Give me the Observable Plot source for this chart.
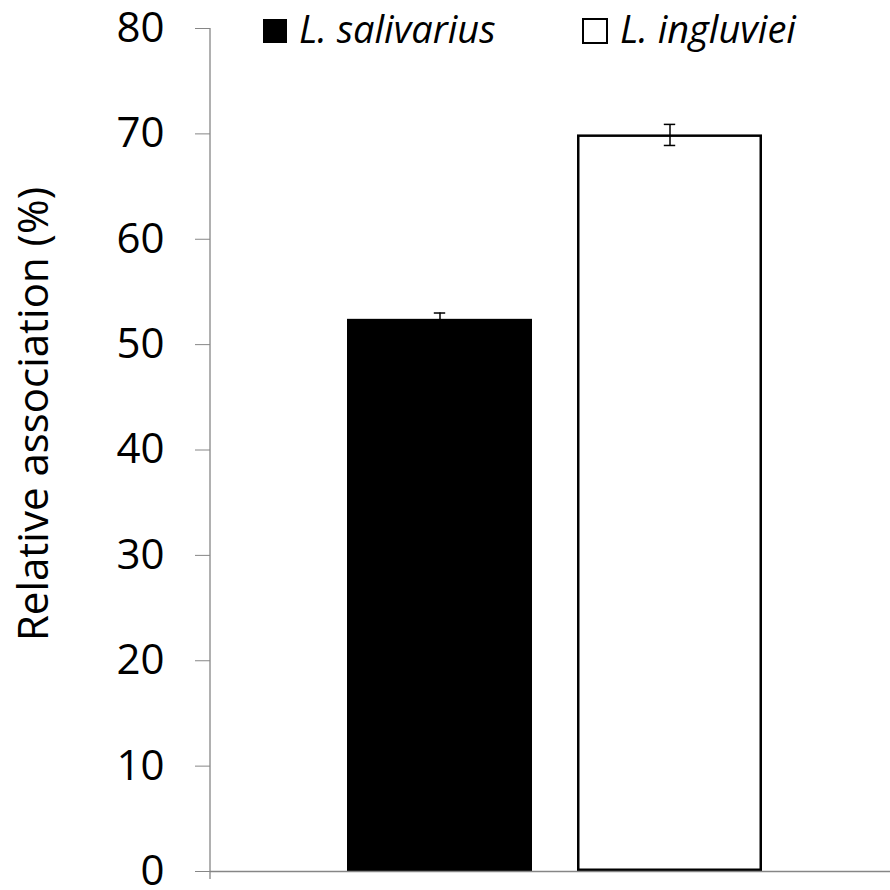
<!DOCTYPE html>
<html><head><meta charset="utf-8">
<script src="https://cdn.jsdelivr.net/npm/d3@7"></script>
<script src="https://cdn.jsdelivr.net/npm/@observablehq/plot@0.6"></script>
<style>
html,body{margin:0;padding:0;background:#fff;}
#wrap{position:relative;width:890px;height:890px;font-family:"Open Sans",sans-serif;}
#wrap svg{position:absolute;left:0;top:0;}
.sw{position:absolute;box-sizing:border-box;}
.lt{position:absolute;font-style:italic;font-size:38px;line-height:38px;color:#000;white-space:nowrap;}
</style></head>
<body><div id="wrap"></div>
<script>
const species = ["L. salivarius", "L. ingluviei"];
const means = [52.4, 69.9];
const sems = [0.6, 1.0];
const fills = ["#000000", "#ffffff"];
const yTicks = [0, 10, 20, 30, 40, 50, 60, 70, 80];
const yLabel = "Relative association (%)";

const data = species.map((s, i) => ({
  species: s, mean: means[i], fill: fills[i],
  lo: means[i] - sems[i], hi: means[i] + sems[i]
}));

const axisGray = "#868686";

const plot = Plot.plot({
  width: 890, height: 890,
  marginLeft: 210, marginRight: 0, marginTop: 28, marginBottom: 19,
  style: {fontFamily: "'Open Sans', sans-serif", background: "transparent", overflow: "visible", color: "black"},
  color: {type: "identity"},
  x: {domain: species, range: [347, 763], paddingInner: 0.195, paddingOuter: 0, axis: null},
  y: {domain: [0, 80]},
  marks: [
    Plot.barY(data, {x: "species", y: "mean", fill: "fill", stroke: "black", strokeWidth: 2.5, inset: 1.25}),
    Plot.ruleX(data, {x: "species", y1: "lo", y2: "hi", stroke: "black", strokeWidth: 1.5}),
    Plot.tickY(data, {x: "species", y: "hi", stroke: "black", strokeWidth: 1.5, insetLeft: 86.8, insetRight: 86.8}),
    Plot.tickY(data, {x: "species", y: "lo", stroke: "black", strokeWidth: 1.5, insetLeft: 86.8, insetRight: 86.8}),
    Plot.axisY({ticks: yTicks, tickSize: 15, tickPadding: 31, fontSize: 42, stroke: axisGray, fill: "black", label: null}),
    Plot.ruleY([0], {stroke: axisGray, strokeWidth: 1.3}),
    Plot.text([yLabel], {text: d => d, frameAnchor: "left", textAnchor: "middle", rotate: -90, dx: -176, dy: -36, fontSize: 42, fill: "black"})
  ]
});

// y-axis line (extends slightly below the baseline like the original)
const ys = plot.scale("y");
const yFn = d3.scaleLinear(ys.domain, ys.range);
d3.select(plot).append("line")
  .attr("x1", 210).attr("x2", 210)
  .attr("y1", yFn(80)).attr("y2", yFn(0) + 8)
  .attr("stroke", axisGray).attr("stroke-width", 1.3);

const wrap = document.getElementById("wrap");
wrap.appendChild(plot);

// legend
const legend = [
  {label: species[0], fill: fills[0], left: 263, top: 19, size: 24, border: 0, textLeft: 299},
  {label: species[1], fill: fills[1], left: 582, top: 18, size: 26, border: 2.5, textLeft: 620}
];
for (const l of legend) {
  const sw = document.createElement("div");
  sw.className = "sw";
  Object.assign(sw.style, {left: l.left + "px", top: l.top + "px", width: l.size + "px", height: l.size + "px",
    background: l.fill, border: l.border ? `${l.border}px solid #000` : "none"});
  wrap.appendChild(sw);
  const t = document.createElement("div");
  t.className = "lt";
  t.textContent = l.label;
  Object.assign(t.style, {left: l.textLeft + "px", top: "9px"});
  wrap.appendChild(t);
}
</script>
</body></html>
